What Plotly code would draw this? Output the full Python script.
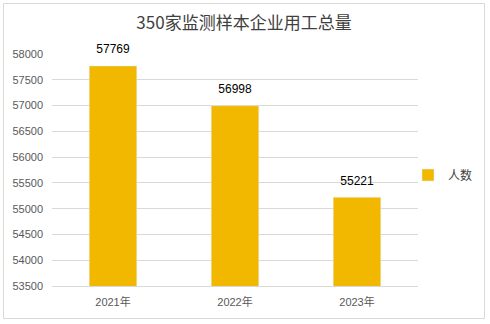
import plotly.graph_objects as go

categories = ["2021年", "2022年", "2023年"]
values = [57769, 56998, 55221]
series_name = "人数"
title_text = "350家监测样本企业用工总量"

W, H = 490, 324
ml, mr, mt, mb = 52, 72, 54, 38
pw, ph = W - ml - mr, H - mt - mb

fig = go.Figure()
fig.add_trace(go.Bar(
    x=categories, y=values, name=series_name,
    marker=dict(color="#F2B800"),
))
fig.add_trace(go.Scatter(
    x=categories, y=values, mode="markers+text", showlegend=False,
    marker=dict(size=14, opacity=0),
    text=[str(v) for v in values], textposition="top center",
    textfont=dict(size=12, color="#000000", family="Liberation Sans, Noto Sans CJK SC"),
    cliponaxis=False, hoverinfo="skip",
))

def px2paper_x(px):
    return (px - ml) / pw

def px2paper_y(py):
    return 1 - (py - mt) / ph

fig.update_layout(
    width=W, height=H,
    margin=dict(l=ml, r=mr, t=mt, b=mb, autoexpand=False),
    paper_bgcolor="white", plot_bgcolor="white",
    font=dict(family="Liberation Sans, Noto Sans CJK SC", color="#595959", size=11),
    title=dict(text=title_text, x=px2paper_x(244), xref="paper", xanchor="center", y=1 - 23 / H, yanchor="middle",
               font=dict(size=17, color="#404040", family="Noto Sans CJK SC, Liberation Sans")),
    bargap=0.61,
    showlegend=True,
    legend=dict(xref="container", yref="container", x=408 / W, y=1 - 175 / H, xanchor="left", yanchor="middle",
                font=dict(size=12, color="#404040", family="Noto Sans CJK SC"),
                itemwidth=30, bgcolor="rgba(0,0,0,0)"),
    xaxis=dict(showline=True, linecolor="#d9d9d9", linewidth=1, ticks="", ticklabelstandoff=6,
               tickfont=dict(size=11, color="#595959", family="Liberation Sans, Noto Sans CJK SC")),
    yaxis=dict(range=[53500, 58000], dtick=500, showgrid=True, gridcolor="#d9d9d9", gridwidth=1,
               zeroline=False, ticks="", tickformat="d", ticklabelstandoff=8,
               tickfont=dict(size=11, color="#595959")),
    shapes=[dict(type="rect", xref="paper", yref="paper",
                 x0=px2paper_x(3.5), x1=px2paper_x(484.5), y0=px2paper_y(318.5), y1=px2paper_y(3.5),
                 line=dict(color="#d9d9d9", width=1), fillcolor="rgba(0,0,0,0)", layer="below")],
)

fig.write_html("out.html")
